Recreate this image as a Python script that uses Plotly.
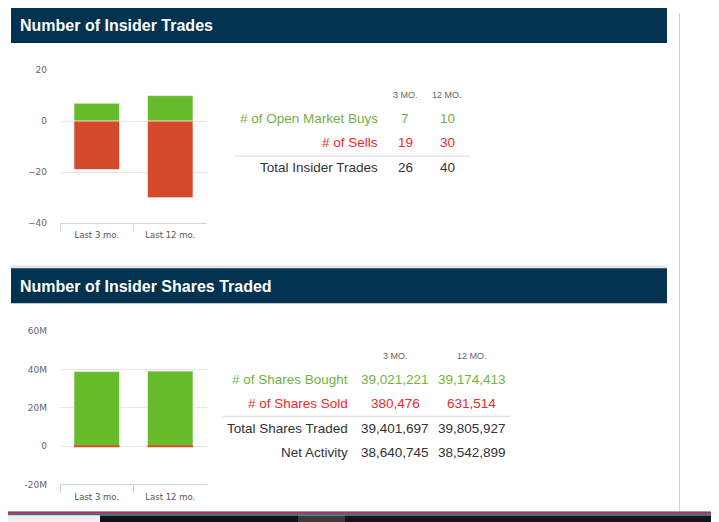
"""
Insider trading summary: trades and shares traded
"""
import plotly.graph_objects as go
from plotly.subplots import make_subplots

W, H = 719, 522
OFF = 8  # page body margin the figure sits inside
# the capture squeezes the page a little vertically; measured from earlier renders
SQ, SHIFT = 0.98, 5.16

# data
periods = ["Last 3 mo.", "Last 12 mo."]
col_heads = ["3 MO.", "12 MO."]

buys = [7, 10]
sells = [19, 30]
total_trades = [26, 40]

shares_bought = [39021221, 39174413]
shares_sold = [380476, 631514]
total_shares = [39401697, 39805927]
net_activity = [38640745, 38542899]

trades_ticks = [-40, -20, 0, 20]
shares_ticks = [-20e6, 0, 20e6, 40e6, 60e6]
shares_tick_text = ["-20M", "0", "20M", "40M", "60M"]

GREEN_BAR = "#67bc2b"
RED_BAR = "#d64a2c"
GREEN_TXT = "#72b23f"
RED_TXT = "#ee2a2a"
DARK_TXT = "#333333"
NAVY = "#01324f"
FONT = "Liberation Sans, Arial, sans-serif"
TICK_FONT = "DejaVu Sans, Verdana, sans-serif"

FW, FH = W - OFF, 520


def px(x):
    return (x - OFF) / FW


def py(y):
    page = (y - SHIFT) / SQ
    return 1 - (page - OFF) / FH


fig = make_subplots(rows=2, cols=1)

# top chart: number of trades
fig.add_trace(go.Bar(x=periods, y=buys, marker=dict(color=GREEN_BAR, line=dict(color="white", width=0.6)),
                     width=0.62, showlegend=False), row=1, col=1)
fig.add_trace(go.Bar(x=periods, y=[-s for s in sells], marker=dict(color=RED_BAR, line=dict(color="white", width=0.6)),
                     width=0.62, showlegend=False), row=1, col=1)

# bottom chart: shares traded
fig.add_trace(go.Bar(x=periods, y=shares_bought, marker=dict(color=GREEN_BAR, line=dict(color="white", width=0.6)),
                     width=0.62, showlegend=False), row=2, col=1)
fig.add_trace(go.Bar(x=periods, y=[-s for s in shares_sold], marker=dict(color=RED_BAR, line=dict(width=0)),
                     width=0.62, showlegend=False), row=2, col=1)

axis_x = dict(showgrid=False, showline=True, linecolor="#ccd6eb", linewidth=1,
              ticks="outside", tickson="boundaries", ticklen=8, tickcolor="#ccd6eb",
              tickfont=dict(family=TICK_FONT, size=8.5, color="#555555"), fixedrange=True,
              ticklabelstandoff=4)
axis_y = dict(showgrid=True, gridcolor="#e6e6e6", gridwidth=1, zeroline=False, showline=False,
              tickfont=dict(family=TICK_FONT, size=9, color="#666666"), ticks="", ticklabelstandoff=12)

fig.update_xaxes(domain=[px(60), px(207)], **axis_x)
fig.update_yaxes(**axis_y)
fig.update_yaxes(domain=[py(223), py(70)], range=[-40, 20], tickvals=trades_ticks, row=1, col=1)
fig.update_yaxes(domain=[py(484), py(331)], range=[-20e6, 60e6], tickvals=shares_ticks,
                 ticktext=shares_tick_text, row=2, col=1)

shapes = []
annotations = []

# page decorations: section headers, side rule, bottom bar
for top in (5, 265):
    shapes.append(dict(type="rect", xref="paper", yref="paper", x0=px(11), x1=px(667),
                       y0=py(top + 3), y1=py(top), fillcolor="#e6e6e6", line_width=0, layer="below"))
    shapes.append(dict(type="rect", xref="paper", yref="paper", x0=px(11), x1=px(667),
                       y0=py(top + 38), y1=py(top + 3), fillcolor=NAVY, line_width=0, layer="below"))
shapes.append(dict(type="line", xref="paper", yref="paper", x0=px(679.5), x1=px(679.5),
                   y0=py(511), y1=1, line=dict(color="#d0d0d0", width=1)))
shapes.append(dict(type="rect", xref="paper", yref="paper", x0=0, x1=1, y0=py(515), y1=py(511),
                   fillcolor="#3f7580", line_width=0))
shapes.append(dict(type="line", xref="paper", yref="paper", x0=0, x1=1, y0=py(512), y1=py(512),
                   line=dict(color="#e0195a", width=1.5)))
for x0, x1, c in [(OFF, 100, "#f0f0f0"), (100, 298, "#0a1418"), (298, 345, "#3a3d3e"), (345, 719, "#101619")]:
    shapes.append(dict(type="rect", xref="paper", yref="paper", x0=px(x0), x1=px(x1), y0=py(530), y1=py(515),
                       fillcolor=c, line_width=0))

titles = [("Number of Insider Trades", 25), ("Number of Insider Shares Traded", 286)]
for text, y in titles:
    annotations.append(dict(text="<b>%s</b>" % text, x=px(18), y=py(y), xref="paper", yref="paper",
                            xanchor="left", yanchor="middle", showarrow=False,
                            font=dict(family=FONT, size=16, color="white")))


def add_table(rows, label_x, col_x, head_y, row_ys, rule_y, rule_x0, rule_x1):
    for head, cx in zip(col_heads, col_x):
        annotations.append(dict(text=head, x=px(cx), y=py(head_y), xref="paper", yref="paper",
                                xanchor="center", yanchor="middle", showarrow=False,
                                font=dict(family=FONT, size=9, color="#666666")))
    for (label, values, color), ry in zip(rows, row_ys):
        annotations.append(dict(text=label, x=px(label_x), y=py(ry), xref="paper", yref="paper",
                                xanchor="right", yanchor="middle", showarrow=False,
                                font=dict(family=FONT, size=13.5, color=color)))
        for v, cx in zip(values, col_x):
            annotations.append(dict(text="{:,}".format(v), x=px(cx), y=py(ry), xref="paper", yref="paper",
                                    xanchor="center", yanchor="middle", showarrow=False,
                                    font=dict(family=FONT, size=13.5, color=color)))
    shapes.append(dict(type="line", xref="paper", yref="paper", x0=px(rule_x0), x1=px(rule_x1),
                       y0=py(rule_y), y1=py(rule_y), line=dict(color="#d8d8d8", width=1)))


add_table([("# of Open Market Buys", buys, GREEN_TXT),
           ("# of Sells", sells, RED_TXT),
           ("Total Insider Trades", total_trades, DARK_TXT)],
          label_x=380, col_x=[405, 447], head_y=95, row_ys=[118, 142, 167],
          rule_y=156, rule_x0=235, rule_x1=470)

add_table([("# of Shares Bought", shares_bought, GREEN_TXT),
           ("# of Shares Sold", shares_sold, RED_TXT),
           ("Total Shares Traded", total_shares, DARK_TXT),
           ("Net Activity", net_activity, DARK_TXT)],
          label_x=350, col_x=[395, 472], head_y=356, row_ys=[379, 403, 428, 452],
          rule_y=416, rule_x0=223, rule_x1=511)

fig.update_layout(
    width=FW, height=FH,
    margin=dict(l=0, r=0, t=0, b=0),
    barmode="relative",
    bargap=0.38,
    plot_bgcolor="white",
    paper_bgcolor="white",
    shapes=shapes,
    annotations=annotations,
    font=dict(family=FONT),
)

fig.write_html("out.html")
